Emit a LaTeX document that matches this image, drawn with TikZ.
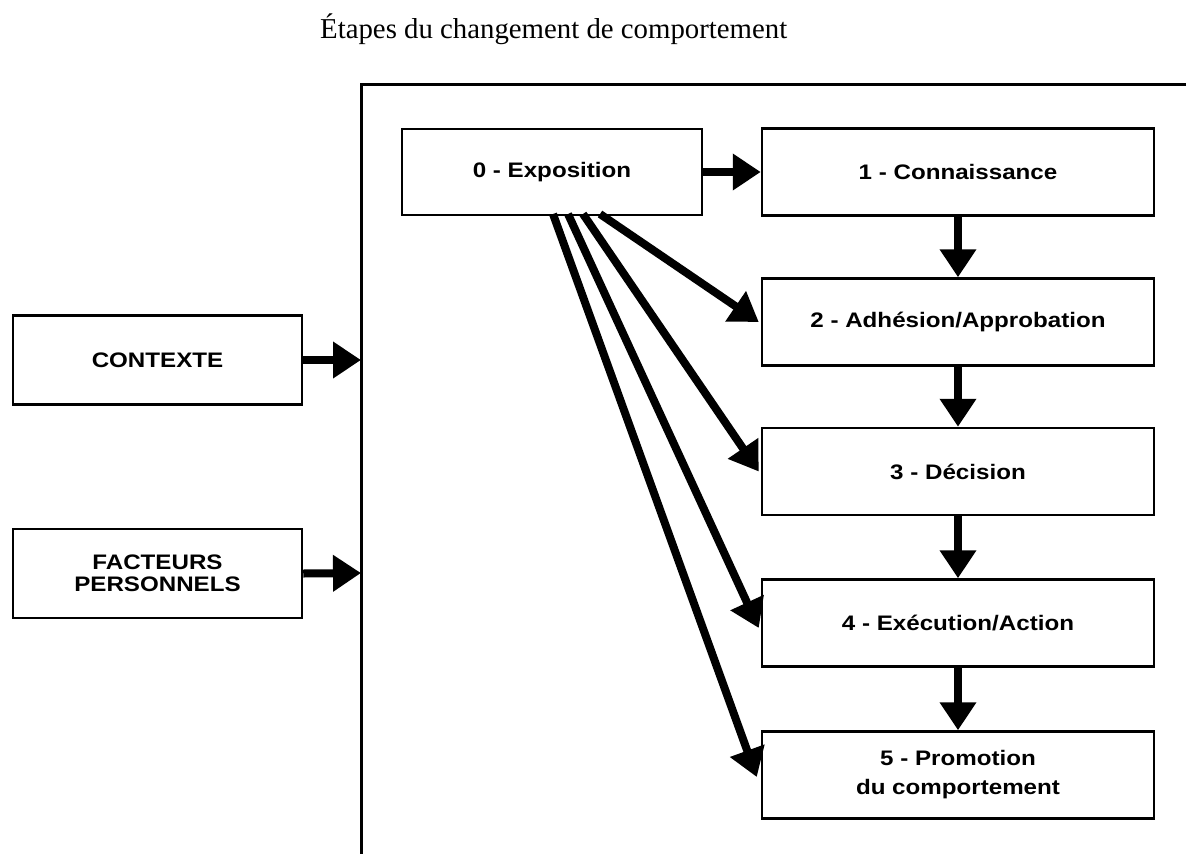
\documentclass[tikz,border=0pt]{standalone}
\usepackage{fontspec}
\setmainfont{Liberation Serif}
\newfontfamily\boxfont[FakeStretch=1.15]{Liberation Sans}
\usetikzlibrary{arrows.meta}
\begin{document}
\begin{tikzpicture}[x=1pt,y=-1pt,
  box/.style={draw=black, line width=2.5pt, fill=white, align=center, inner sep=0pt,
    font=\boxfont\bfseries\fontsize{21}{22}\selectfont},
  stage/.style={box, minimum width=392pt, minimum height=87pt},
  side/.style={box, minimum width=289pt, minimum height=89pt},
  bigarrow/.style={line width=8pt, -{Triangle[length=28pt,width=35pt]}},
  frameline/.style={line width=3pt}]
\useasboundingbox (0,0) rectangle (1191,854);
\node[anchor=base west, font=\fontsize{28.8}{33}\selectfont, inner sep=0pt] (title) at (320,38) {Étapes du changement de comportement};
% frame
\coordinate (ftl) at (361,84);
\coordinate (ftr) at (1186,84);
\coordinate (fbl) at (361,854);
\draw[frameline] (ftr) -- (ftl) -- (fbl);
% boxes
\node[box, minimum width=300pt, minimum height=86pt] (expo) at (552,172) {0 - Exposition};
\node[stage] (conn) at (958,172) {1 - Connaissance};
\node[stage] (adh) at (958,322) {2 - Adhésion/Approbation};
\node[stage] (dec) at (958,471.5) {3 - Décision};
\node[stage] (exe) at (958,623) {4 - Exécution/Action};
\node[stage, font=\boxfont\bfseries\fontsize{21}{29}\selectfont] (promo) at (958,775) {5 - Promotion\\du comportement};
\node[side] (ctx) at (157.5,360) {CONTEXTE};
\node[side, font=\boxfont\bfseries\fontsize{21}{22}\selectfont] (fac) at (157.5,573.5) {FACTEURS\\PERSONNELS};
% inputs to frame
\coordinate (ctxin) at (361,360);
\coordinate (facin) at (361,573);
\draw[bigarrow] (ctx.east) -- (ctxin);
\draw[bigarrow] (fac.east) -- (facin);
% sequence
\draw[bigarrow] (expo.east) -- (conn.west);
\draw[bigarrow] (conn.south) -- (adh.north);
\draw[bigarrow] (adh.south) -- (dec.north);
\draw[bigarrow] (dec.south) -- (exe.north);
\draw[bigarrow] (exe.south) -- (promo.north);
% diagonals from exposition
\coordinate (s1) at (600,214);
\coordinate (s2) at (583,214);
\coordinate (s3) at (568,214);
\coordinate (s4) at (553,214);
\draw[bigarrow] (s1) -- ([xshift=-2pt]adh.west);
\draw[bigarrow] (s2) -- ([xshift=-2pt]dec.west);
\draw[bigarrow] (s3) -- ([xshift=-2pt,yshift=-5pt]exe.west);
\draw[bigarrow] (s4) -- ([xshift=-4pt,yshift=-2pt]promo.west);
\end{tikzpicture}
\end{document}
